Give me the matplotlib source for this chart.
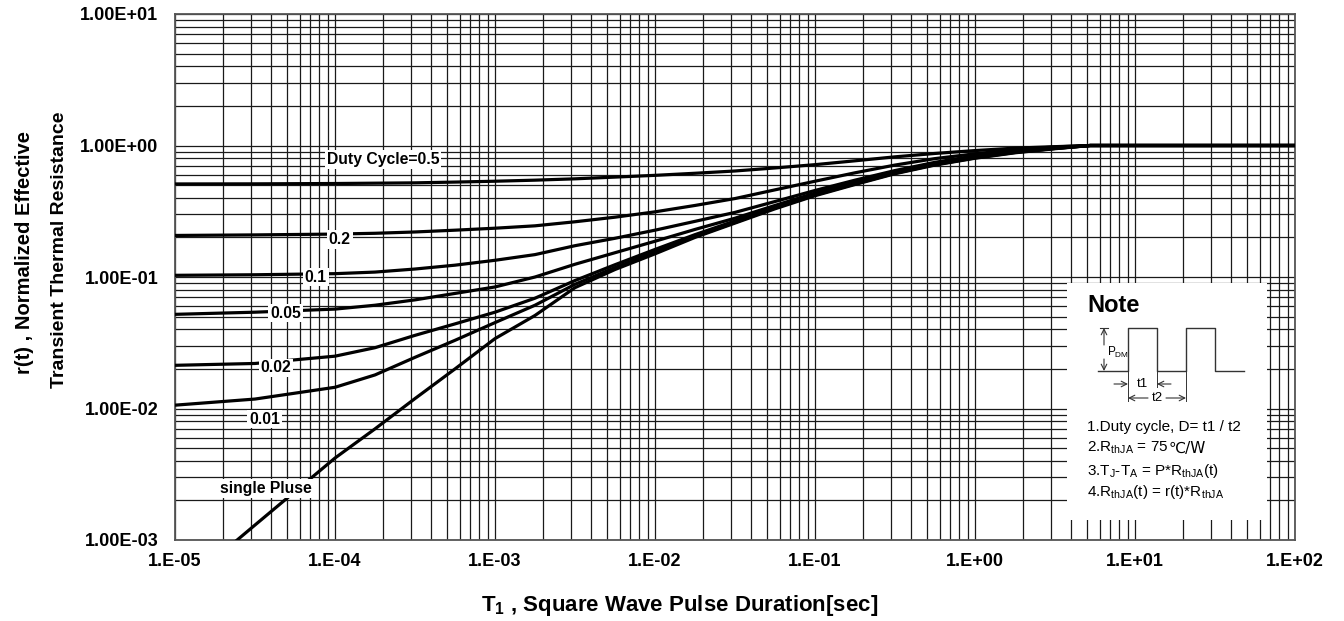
import numpy as np
import matplotlib
matplotlib.use("Agg")
import matplotlib.pyplot as plt
from matplotlib.ticker import FixedLocator, FuncFormatter, LogLocator, NullFormatter

plt.rcParams['font.family'] = ['Liberation Sans', 'DejaVu Sans']
plt.rcParams['mathtext.fontset'] = 'custom'
plt.rcParams['mathtext.rm'] = 'Liberation Sans'
plt.rcParams['mathtext.bf'] = 'Liberation Sans:bold'

# pulse duration, log10(sec)
logt = [-5, -4.5, -4, -3.75, -3.5, -3.25, -3, -2.75, -2.5, -2.25, -2, -1.75,
        -1.5, -1.25, -1, -0.75, -0.5, -0.25, 0, 0.25, 0.5, 0.72, 2]

# r(t) for each duty cycle
d050 = [0.51, 0.511, 0.514, 0.517, 0.52, 0.527, 0.535, 0.545, 0.558, 0.575, 0.593, 0.615,
        0.64, 0.675, 0.715, 0.765, 0.82, 0.87, 0.915, 0.955, 0.98, 1.0, 1.0]
d020 = [0.207, 0.209, 0.212, 0.215, 0.22, 0.227, 0.235, 0.245, 0.263, 0.285, 0.313, 0.35,
        0.395, 0.46, 0.535, 0.62, 0.71, 0.795, 0.865, 0.93, 0.975, 1.0, 1.0]
d010 = [0.103, 0.104, 0.106, 0.109, 0.115, 0.123, 0.134, 0.148, 0.173, 0.197, 0.227, 0.265,
        0.31, 0.375, 0.455, 0.545, 0.645, 0.745, 0.835, 0.91, 0.96, 1.0, 1.0]
d005 = [0.052, 0.054, 0.057, 0.061, 0.067, 0.075, 0.084, 0.10, 0.125, 0.153, 0.187, 0.23,
        0.28, 0.35, 0.435, 0.525, 0.625, 0.725, 0.82, 0.9, 0.955, 1.0, 1.0]
d002 = [0.0213, 0.022, 0.025, 0.029, 0.036, 0.044, 0.054, 0.069, 0.094, 0.124, 0.162, 0.21,
        0.267, 0.34, 0.425, 0.515, 0.62, 0.72, 0.81, 0.89, 0.95, 1.0, 1.0]
d001 = [0.0106, 0.0118, 0.0145, 0.018, 0.0245, 0.033, 0.045, 0.061, 0.088, 0.118, 0.155, 0.203,
        0.26, 0.335, 0.42, 0.51, 0.615, 0.715, 0.805, 0.885, 0.95, 1.0, 1.0]
single = [0.0004, 0.0013, 0.0042, 0.007, 0.0119, 0.02, 0.034, 0.051, 0.083, 0.114, 0.15, 0.20,
          0.257, 0.33, 0.415, 0.505, 0.61, 0.71, 0.80, 0.88, 0.945, 1.0, 1.0]

series = [d050, d020, d010, d005, d002, d001, single]

# curve labels: text, log10(t), r(t)
lab_text = ['Duty Cycle=0.5', '0.2', '0.1', '0.05', '0.02', '0.01', 'single Pluse']
lab_logt = [-4.05, -3.97, -4.12, -4.31, -4.37, -4.44, -4.43]
lab_r = [0.78, 0.193, 0.1, 0.053, 0.0204, 0.0083, 0.00246]
lab_ha = ['left', 'center', 'center', 'center', 'center', 'center', 'center']

xticks = [1e-5, 1e-4, 1e-3, 1e-2, 1e-1, 1e0, 1e1, 1e2]
yticks = [1e-3, 1e-2, 1e-1, 1e0, 1e1]

# note waveform (box-local units)
wave_x = [31, 61, 61, 90, 90, 119, 119, 148, 148, 177]
wave_y = [88, 88, 45, 45, 88, 88, 45, 45, 88, 88]

fig = plt.figure(figsize=(13.44, 6.21), dpi=100)
ax = fig.add_axes([175/1344, 81/621, 1120/1344, 526/621])

t = 10.0 ** np.array(logt)
for s in series:
    ax.plot(t, s, color='black', lw=2.3, solid_capstyle='butt', solid_joinstyle='round', zorder=3)

ax.set_xscale('log')
ax.set_yscale('log')
ax.set_xlim(1e-5, 1e2)
ax.set_ylim(1e-3, 1e1)

ax.xaxis.set_major_locator(FixedLocator(xticks))
ax.yaxis.set_major_locator(FixedLocator(yticks))
ax.xaxis.set_minor_locator(LogLocator(base=10, subs=np.arange(2, 10)))
ax.yaxis.set_minor_locator(LogLocator(base=10, subs=np.arange(2, 10)))
ax.xaxis.set_minor_formatter(NullFormatter())
ax.yaxis.set_minor_formatter(NullFormatter())
ax.xaxis.set_major_formatter(FuncFormatter(lambda v, p: f"{v:#.0E}"))
ax.yaxis.set_major_formatter(FuncFormatter(lambda v, p: f"{v:.2E}"))
ax.tick_params(which='both', length=0)
ax.tick_params(axis='x', pad=9, labelsize=13)
ax.tick_params(axis='y', pad=12, labelsize=13)
for lb in ax.get_xticklabels() + ax.get_yticklabels():
    lb.set_fontweight('bold')

ax.grid(True, which='both', color='#1a1a1a', lw=0.9)
ax.set_axisbelow(True)
for sp in ax.spines.values():
    sp.set_color('#555555')
    sp.set_linewidth(1.3)

for txt, lx, ly, ha in zip(lab_text, lab_logt, lab_r, lab_ha):
    ax.text(10.0 ** lx, ly, txt, ha=ha, va='center', fontsize=11.3, fontweight='bold',
            bbox=dict(facecolor='white', edgecolor='none', pad=1.2), zorder=4)

# Note box
nb = ax.inset_axes([(1067-175)/1120, 20/526, 200/1120, 237/526])
nb.set_zorder(6)
nb.set_xlim(0, 200)
nb.set_ylim(237, 0)
nb.set_xticks([])
nb.set_yticks([])
for sp in nb.spines.values():
    sp.set_visible(False)
nb.set_facecolor('white')

lc = '#333333'
arr = dict(arrowstyle='->', color=lc, lw=0.8, shrinkA=0, shrinkB=0)
nb.plot(wave_x, wave_y, color=lc, lw=1.0)
nb.plot([33, 41], [45, 45], color=lc, lw=0.8)
nb.annotate('', xy=(37, 45), xytext=(37, 62), arrowprops=arr)
nb.annotate('', xy=(37, 88), xytext=(37, 76), arrowprops=arr)
nb.text(40, 69, r'P$_\mathregular{DM}$', fontsize=8.5, va='center', ha='left')
for xx, y1 in [(61, 118), (90, 104), (119, 118)]:
    nb.plot([xx, xx], [88, y1], color=lc, lw=0.7)
nb.annotate('', xy=(61, 101), xytext=(47, 101), arrowprops=arr)
nb.annotate('', xy=(90, 101), xytext=(104, 101), arrowprops=arr)
nb.text(75, 101, 't1', fontsize=9.5, ha='center', va='center')
nb.annotate('', xy=(61, 115), xytext=(81, 115), arrowprops=arr)
nb.annotate('', xy=(119, 115), xytext=(99, 115), arrowprops=arr)
nb.text(90, 115, 't2', fontsize=9.5, ha='center', va='center')

nb.text(20, 22, 'Note', fontsize=17, fontweight='bold', ha='left', va='center')
fs = 11
nb.text(20, 144, '1.Duty cycle, D= t1 / t2', fontsize=fs, ha='left', va='center')
l2 = nb.text(20, 165, r'2.R$_\mathregular{thJA}$ = 75 ', fontsize=fs, ha='left', va='center')
nb.annotate('\u2103/W', xy=(1, 0.5), xycoords=l2, fontsize=fs, ha='left', va='center',
            family=['DejaVu Sans'])
nb.text(20, 188, r'3.T$_\mathregular{J}$-T$_\mathregular{A}$ = P*R$_\mathregular{thJA}$(t)', fontsize=fs, ha='left', va='center')
nb.text(20, 209, r'4.R$_\mathregular{thJA}$(t) = r(t)*R$_\mathregular{thJA}$', fontsize=fs, ha='left', va='center')

fig.text(680/1344, 1 - 605/621, r'T$_\mathbf{1}$ , Square Wave Pulse Duration[sec]',
         fontsize=16, fontweight='bold', ha='center', va='center')
fig.text(25/1344, 1 - 252/621, 'r(t) , Normalized Effective', rotation=90,
         fontsize=14.5, fontweight='bold', ha='center', va='center')
fig.text(60/1344, 1 - 250/621, 'Transient Thermal Resistance', rotation=90,
         fontsize=14, fontweight='bold', ha='center', va='center')

fig.savefig('out.png', dpi=100, facecolor='white')
